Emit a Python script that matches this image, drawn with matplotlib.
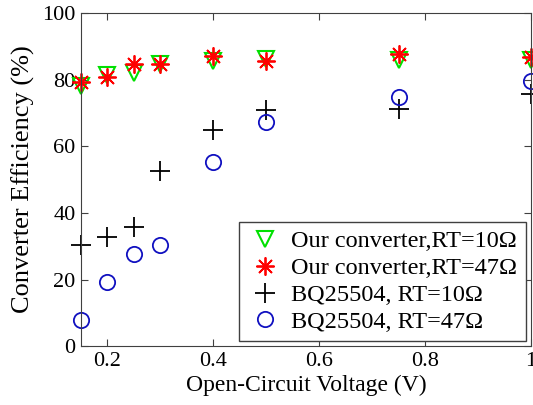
import matplotlib
matplotlib.use("Agg")
import matplotlib.pyplot as plt

plt.rcParams['font.family'] = ['Liberation Serif', 'DejaVu Serif']

voltage = [0.15, 0.2, 0.25, 0.3, 0.4, 0.5, 0.75, 1.0]
ours_10 = [78.0, 81.3, 82.0, 84.8, 85.5, 86.3, 85.8, 86.0]
ours_47 = [79.2, 80.8, 84.8, 84.8, 87.0, 85.5, 87.7, 86.8]
bq_10 = [30.5, 32.8, 35.8, 52.7, 65.0, 70.8, 71.2, 75.6]
bq_47 = [8.0, 19.4, 27.8, 30.4, 55.2, 67.3, 74.8, 79.6]

labels = ['Our converter,RT=10\u03a9', 'Our converter,RT=47\u03a9',
          'BQ25504, RT=10\u03a9', 'BQ25504, RT=47\u03a9']

fig = plt.figure(figsize=(5.33, 4.05), dpi=100)
ax = fig.add_axes([0.152, 0.145, 0.844, 0.823])

ax.plot(voltage, ours_10, 'v', ms=12, mfc='none', mec='#00e000', mew=1.5,
        label=labels[0], clip_on=False)
ax.plot(voltage, ours_47, ls='none', marker=(8, 2, 0), ms=13, color='red', mec='red',
        mew=1.3, label=labels[1], clip_on=False)
ax.plot(voltage, bq_10, '+', ms=14, color='black', mew=1.3, label=labels[2], clip_on=False)
ax.plot(voltage, bq_47, 'o', ms=11, mfc='none', mec='#1010c0', mew=1.3,
        label=labels[3], clip_on=False)

ax.set_xlim(0.15, 1.0)
ax.set_ylim(0, 100)
ax.set_xticks([0.2, 0.4, 0.6, 0.8, 1.0])
ax.set_xticklabels(['0.2', '0.4', '0.6', '0.8', '1'])
ax.set_yticks([0, 20, 40, 60, 80, 100])
ax.tick_params(direction='in', top=True, right=True, labelsize=16, length=5,
               color='#404040', pad=4)
for s in ax.spines.values():
    s.set_color('#404040')

ax.set_xlabel('Open-Circuit Voltage (V)', fontsize=17, labelpad=3)
ax.set_ylabel('Converter Efficiency (%)', fontsize=19, labelpad=5)

leg = ax.legend(loc='lower right', fontsize=17.5, fancybox=False, framealpha=1,
                edgecolor='#404040', handletextpad=0.4, borderpad=0.35,
                labelspacing=0.2, handlelength=1.4, borderaxespad=0.2)
leg.get_frame().set_linewidth(1.0)

fig.savefig('out.png', dpi=100)
